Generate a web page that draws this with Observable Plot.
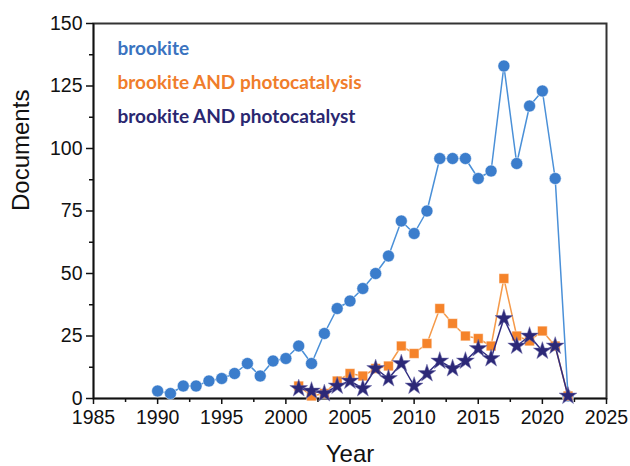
<!DOCTYPE html>
<html>
<head>
<meta charset="utf-8">
<script src="https://cdn.jsdelivr.net/npm/d3@7"></script>
<script src="https://cdn.jsdelivr.net/npm/@observablehq/plot@0.6"></script>
<style>
  html, body { margin: 0; padding: 0; background: #fff; }
  #chart svg { display: block; }
</style>
</head>
<body>
<div id="chart"></div>
<script>
// ---- data ----
const yearsAll = d3.range(1990, 2023);           // 1990..2022
const brookite = [3, 2, 5, 5, 7, 8, 10, 14, 9, 15, 16, 21, 14, 26, 36, 39, 44, 50, 57, 71, 66, 75, 96, 96, 96, 88, 91, 133, 94, 117, 123, 88, 1];
const yearsPhoto = d3.range(2001, 2023);         // 2001..2022
const photocatalysis = [5, 1, 2, 7, 10, 9, 12, 13, 21, 18, 22, 36, 30, 25, 24, 21, 48, 25, 23, 27, 21, 1];
const photocatalyst  = [4, 3, 2, 5, 7, 4, 12, 8, 14, 5, 10, 15, 12, 15, 20, 16, 32, 21, 25, 19, 21, 1];
const seriesNames = ["brookite", "brookite AND photocatalysis", "brookite AND photocatalyst"];
const xMajorTicks = d3.range(1985, 2026, 5);
const xMinorTicks = d3.range(1987.5, 2025, 5);
const yMajorTicks = d3.range(0, 151, 25);
const yMinorTicks = d3.range(12.5, 150, 25);

const colors = {
  blueDot: "#3b7dcc", blueLine: "#4a90d8", blueText: "#3a73bf",
  orangeDot: "#f5832a", orangeLine: "#f59a4a", orangeText: "#f07d2b",
  navyDot: "#2c2877", navyLine: "#2f2c80", navyText: "#2a2770"
};

const tBlue = yearsAll.map((year, i) => ({year, value: brookite[i]}));
const tOrange = yearsPhoto.map((year, i) => ({year, value: photocatalysis[i]}));
const tNavy = yearsPhoto.map((year, i) => ({year, value: photocatalyst[i]}));

const font = "Liberation Sans, Arial, sans-serif";
const legendFont = "Lato, 'Open Sans', sans-serif";

const chart = Plot.plot({
  width: 630,
  height: 466,
  marginLeft: 93,
  marginRight: 24,
  marginTop: 23,
  marginBottom: 68,
  style: {fontFamily: font, background: "#fff", color: "#111"},
  x: {domain: [1985, 2025]},
  y: {domain: [0, 150]},
  marks: [
    Plot.frame({stroke: "#333", strokeWidth: 2}),
    // axes
    Plot.axisX({ticks: xMajorTicks, tickFormat: d => String(d), tickSize: 6, tickPadding: 6, fontSize: 19.5, label: null, stroke: "#111", strokeWidth: 1.5}),
    Plot.axisX({ticks: xMinorTicks, text: null, tickSize: 4, label: null, stroke: "#111", strokeWidth: 1.5}),
    Plot.axisY({ticks: yMajorTicks, tickSize: 7, tickPadding: 4, fontSize: 19.5, label: null, stroke: "#111", strokeWidth: 1.5}),
    Plot.axisY({ticks: yMinorTicks, text: null, tickSize: 4, label: null, stroke: "#111", strokeWidth: 1.5}),
    Plot.ruleX([1985], {stroke: "#111", strokeWidth: 1.5}),
    Plot.ruleY([0], {stroke: "#111", strokeWidth: 1.5}),
    // axis titles
    Plot.text(["Year"], {frameAnchor: "bottom", dy: 63, fontSize: 24, fill: "#111"}),
    Plot.text(["Documents"], {frameAnchor: "left", dx: -72, rotate: -90, fontSize: 24, fill: "#111"}),
    // series
    Plot.line(tBlue, {x: "year", y: "value", stroke: colors.blueLine, strokeWidth: 1.5}),
    Plot.dot(tBlue, {x: "year", y: "value", r: 6, fill: colors.blueDot, stroke: "#fff", strokeWidth: 0.5, symbol: "circle"}),
    Plot.line(tOrange, {x: "year", y: "value", stroke: colors.orangeLine, strokeWidth: 1.5}),
    Plot.dot(tOrange, {x: "year", y: "value", r: 5.5, fill: colors.orangeDot, stroke: "#fff", strokeWidth: 0.5, symbol: "square"}),
    Plot.line(tNavy, {x: "year", y: "value", stroke: colors.navyLine, strokeWidth: 1.5}),
    Plot.dot(tNavy, {x: "year", y: "value", r: 5.6, fill: colors.navyDot, stroke: "#6d6aa8", strokeWidth: 0.5, symbol: "star"}),
    // legend
    Plot.text([seriesNames[0]], {frameAnchor: "top-left", dx: 24, dy: 18, textAnchor: "start", fontSize: 19, fontWeight: "bold", fill: colors.blueText, fontFamily: legendFont}),
    Plot.text([seriesNames[1]], {frameAnchor: "top-left", dx: 24, dy: 52, textAnchor: "start", fontSize: 19, fontWeight: "bold", fill: colors.orangeText, fontFamily: legendFont}),
    Plot.text([seriesNames[2]], {frameAnchor: "top-left", dx: 24, dy: 86, textAnchor: "start", fontSize: 19, fontWeight: "bold", fill: colors.navyText, fontFamily: legendFont})
  ]
});
document.getElementById("chart").appendChild(chart);
</script>
</body>
</html>
